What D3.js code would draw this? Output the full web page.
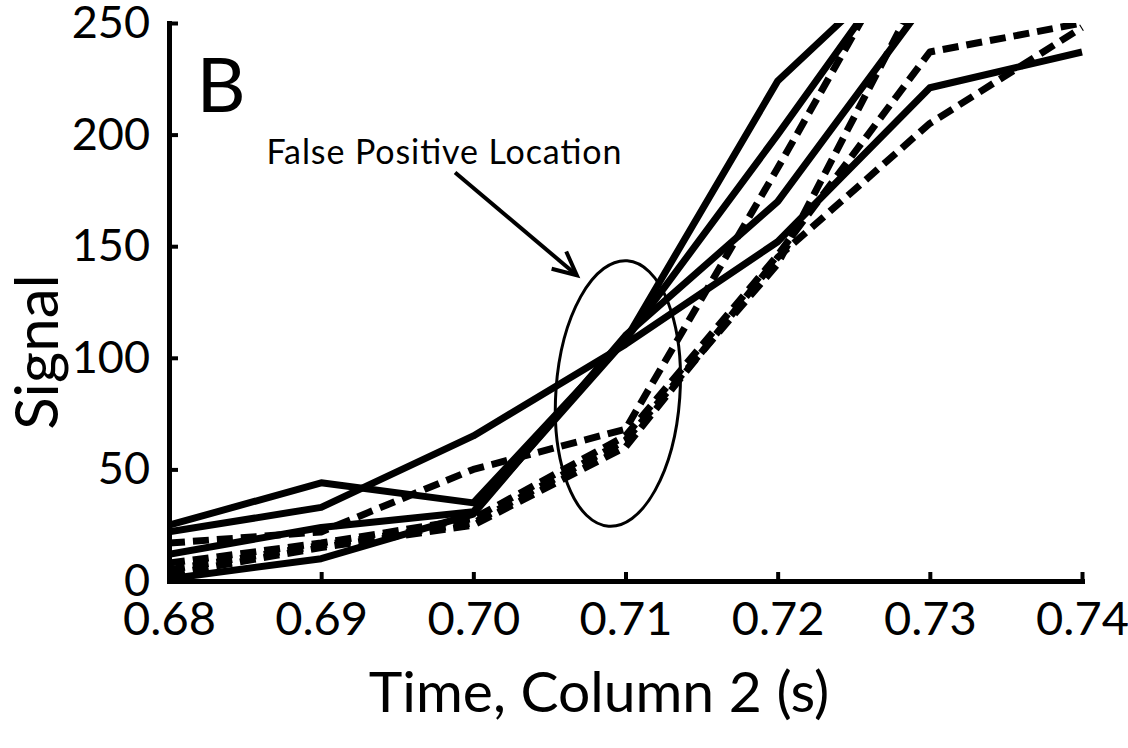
<!DOCTYPE html>
<html>
<head>
<meta charset="utf-8">
<script src="https://cdn.jsdelivr.net/npm/d3@7"></script>
<style>
  html, body { margin: 0; padding: 0; background: #fff; }
  svg { display: block; font-family: Lato, "Open Sans", sans-serif; }
</style>
</head>
<body>
<svg id="chart" width="1128" height="748"></svg>
<script>
// Sample times (s) along column 2
const times = [0.68, 0.69, 0.70, 0.71, 0.72, 0.73, 0.74];

// Solid traces (signal); null = beyond the plotted range
const solidA = [25, 44, 35, 108, 224, 288, null];
const solidB = [12, 24, 31, 108, 200, 295, null];
const solidC = [22, 33, 65, 106, 152, 221, 237];
const solidD = [1, 10, 30, 110, 170, 262, null];

// Dashed traces
const dashedA = [17, 22, 50, 68, 185, 305, null];
const dashedB = [5, 16, 26, 63, 142, 273, null];
const dashedC = [8, 17, 28, 65, 146, 237, 250];
const dashedD = [3, 15, 25, 60, 145, 205, 248];

const xTicks = [0.68, 0.69, 0.70, 0.71, 0.72, 0.73, 0.74];
const yTicks = [0, 50, 100, 150, 200, 250];

const panelLabel = "B";
const noteText = "False Positive Location";
const xTitle = "Time, Column 2 (s)";
const yTitle = "Signal";

const svg = d3.select("#chart");
const plotLeft = 169, plotRight = 1082, plotTop = 23, plotBottom = 581;

const x = d3.scaleLinear().domain([0.68, 0.74]).range([plotLeft, plotRight]);
const y = d3.scaleLinear().domain([0, 250]).range([plotBottom, plotTop]);

svg.append("clipPath").attr("id", "plot-clip")
  .append("rect")
  .attr("x", plotLeft).attr("y", plotTop)
  .attr("width", plotRight - plotLeft + 10).attr("height", plotBottom - plotTop);

const line = d3.line()
  .defined(d => d[1] != null)
  .x(d => x(d[0]))
  .y(d => y(d[1]));

const series = [
  { v: dashedD, dash: true },
  { v: dashedC, dash: true },
  { v: dashedB, dash: true },
  { v: dashedA, dash: true },
  { v: solidD, dash: false },
  { v: solidC, dash: false },
  { v: solidB, dash: false },
  { v: solidA, dash: false }
];

const plot = svg.append("g").attr("clip-path", "url(#plot-clip)");
series.forEach(s => {
  plot.append("path")
    .datum(times.map((t, i) => [t, s.v[i]]))
    .attr("d", line)
    .attr("fill", "none")
    .attr("stroke", "#000")
    .attr("stroke-width", 7)
    .attr("stroke-linejoin", "round")
    .attr("stroke-dasharray", s.dash ? "16,8" : null);
});

// Axes with inward ticks
const xAxis = svg.append("g")
  .attr("transform", `translate(0,${plotBottom})`)
  .call(d3.axisBottom(x).tickValues(xTicks).tickFormat(d3.format(".2f"))
    .tickSizeInner(-9).tickSizeOuter(0).tickPadding(21));
const yAxis = svg.append("g")
  .attr("transform", `translate(${plotLeft},0)`)
  .call(d3.axisLeft(y).tickValues(yTicks).tickFormat(d3.format("d"))
    .tickSizeInner(-9).tickSizeOuter(0).tickPadding(19));

[xAxis, yAxis].forEach(g => {
  g.select(".domain").attr("stroke", "#000").attr("stroke-width", 5).attr("stroke-linecap", "square");
  g.selectAll(".tick line").attr("stroke", "#000").attr("stroke-width", 4);
  g.selectAll(".tick text").attr("fill", "#000").style("font-family", "Lato, sans-serif");
});
xAxis.selectAll(".tick text").style("font-size", "47px");
yAxis.selectAll(".tick text").style("font-size", "45px");

// Axis titles
svg.append("text")
  .attr("x", 599).attr("y", 712)
  .attr("text-anchor", "middle")
  .style("font-size", "57px")
  .text(xTitle);

svg.append("text")
  .attr("transform", `translate(58,${(plotTop + plotBottom) / 2 + 50}) rotate(-90)`)
  .attr("text-anchor", "middle")
  .style("font-size", "60px")
  .text(yTitle);

// Panel letter
svg.append("text")
  .attr("x", x(0.6818)).attr("y", y(210))
  .style("font-size", "76px")
  .text(panelLabel);

// Annotation: note, arrow, and ellipse around the crossing region
svg.append("text")
  .attr("x", x(0.6864)).attr("y", y(187))
  .style("font-size", "34px")
  .attr("textLength", 355).attr("lengthAdjust", "spacing")
  .text(noteText);

const tail = [x(0.6988), y(183)], tip = [x(0.7068), y(137)];
svg.append("line")
  .attr("x1", tail[0]).attr("y1", tail[1]).attr("x2", tip[0]).attr("y2", tip[1])
  .attr("stroke", "#000").attr("stroke-width", 4);
const ang = Math.atan2(tip[1] - tail[1], tip[0] - tail[0]);
const head = 26;
svg.append("path")
  .attr("d", `M${tip[0] - head * Math.cos(ang - 0.45)},${tip[1] - head * Math.sin(ang - 0.45)}
              L${tip[0]},${tip[1]}
              L${tip[0] - head * Math.cos(ang + 0.45)},${tip[1] - head * Math.sin(ang + 0.45)}`)
  .attr("fill", "none").attr("stroke", "#000").attr("stroke-width", 4)
  .attr("stroke-linejoin", "miter");

const cx = x(0.7095), cy = y(84);
svg.append("ellipse")
  .attr("cx", 0).attr("cy", 0).attr("rx", 62).attr("ry", 133)
  .attr("transform", `translate(${cx},${cy}) rotate(4)`)
  .attr("fill", "none").attr("stroke", "#000").attr("stroke-width", 3);
</script>
</body>
</html>
